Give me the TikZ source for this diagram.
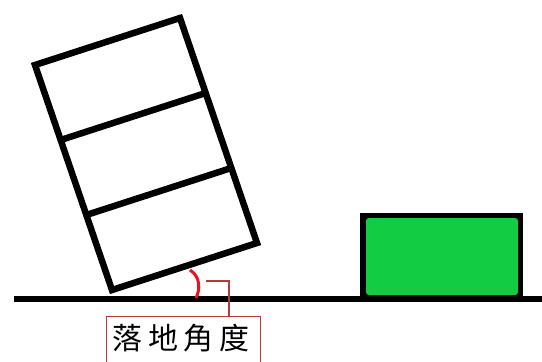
\documentclass[tikz,border=0pt]{standalone}
\usepackage{fontspec}
\usetikzlibrary{calc}
\newfontfamily\cjk{Noto Sans CJK TC}
\definecolor{boxgreen}{RGB}{18,204,68}
\definecolor{callout}{RGB}{178,60,60}
\definecolor{arcred}{RGB}{230,20,30}
\begin{document}
\begin{tikzpicture}[x=1pt,y=-1pt,
  frame/.style={line width=6.5pt, line join=miter, black},
  ground/.style={line width=6pt, black},
  calloutline/.style={line width=1.2pt, callout},
  label/.style={draw=callout, line width=1.2pt, minimum width=154pt, minimum height=56pt, anchor=north west, inner sep=0pt, font=\cjk\fontsize{30}{30}\selectfont, text=black}]
\useasboundingbox (0,0) rectangle (542,362);
\clip (0,0) rectangle (542,362);
% tilted building
\coordinate (TL) at (35,65);
\coordinate (TR) at (180,18);
\coordinate (BR) at (257,243);
\coordinate (BL) at (112,290);
\draw[frame] (TL) -- (TR) -- (BR) -- (BL) -- cycle;
\draw[frame] ($(TL)!1/3!(BL)$) -- ($(TR)!1/3!(BR)$);
\draw[frame] ($(TL)!2/3!(BL)$) -- ($(TR)!2/3!(BR)$);
% ground
\draw[ground] (14,299) -- (542,299);
% green box
\fill[black] (360,213) rectangle (523,299);
\fill[boxgreen, rounded corners=3pt] (366,218) rectangle (518,295);
% angle arc
\draw[arcred, line width=3pt] (190,270) .. controls (201,277) and (200,290) .. (196,298);
% callout
\node[label] (lbl) at (106,316) {};
\node[font=\cjk\fontsize{30}{30}\selectfont] (txt) at (181,338) {落\hspace{6pt}地\hspace{6pt}角\hspace{6pt}度};
\coordinate (cstart) at (206,281);
\coordinate (cend) at (229,316);
\draw[calloutline] (cstart) -| (cend);
\end{tikzpicture}
\end{document}
